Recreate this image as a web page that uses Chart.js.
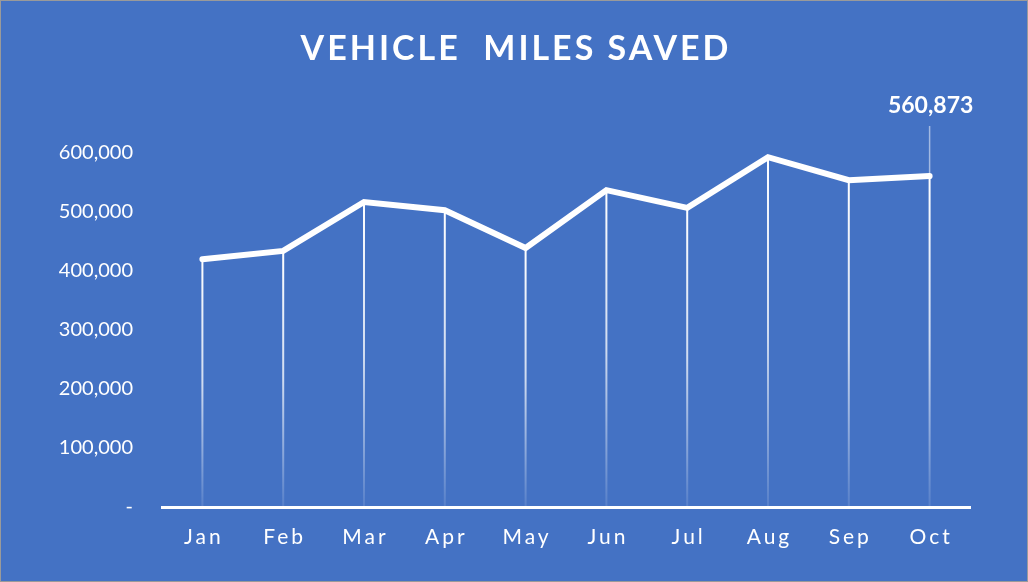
<!DOCTYPE html>
<html lang="en">
<head>
  <meta charset="UTF-8">
  <title>Vehicle Miles Saved</title>
  <script src="https://cdn.jsdelivr.net/npm/chart.js"></script>
  <style>
    html, body { margin: 0; padding: 0; background: #4472C4; }
    #wrap { width: 1028px; height: 582px; }
  </style>
</head>
<body>
  <div id="wrap"><canvas id="lineChart" width="1028" height="582"></canvas></div>

  <script>
    const months = ['Jan', 'Feb', 'Mar', 'Apr', 'May', 'Jun', 'Jul', 'Aug', 'Sep', 'Oct'];
    const milesSaved = [420000, 434000, 517000, 503000, 439000, 537000, 507000, 593000, 554000, 560873];
    const yTicks = [0, 100000, 200000, 300000, 400000, 500000, 600000];
    const chartTitle = 'VEHICLE  MILES SAVED';

    const fmt = v => v === 0 ? '-' : v.toLocaleString('en-US');

    // title, drop lines, x labels, last-point callout, frame
    const decor = {
      id: 'decor',
      beforeDraw(chart) {
        const ctx = chart.ctx;
        ctx.save();
        ctx.fillStyle = '#4472C4';
        ctx.fillRect(0, 0, chart.width, chart.height);
        ctx.restore();
      },
      beforeDatasetsDraw(chart) {
        const ctx = chart.ctx;
        const meta = chart.getDatasetMeta(0);
        const bottom = chart.chartArea.bottom;
        ctx.save();
        meta.data.forEach(pt => {
          const g = ctx.createLinearGradient(0, pt.y, 0, bottom);
          g.addColorStop(0, 'rgba(255,255,255,1)');
          g.addColorStop(0.5, 'rgba(255,255,255,0.75)');
          g.addColorStop(1, 'rgba(255,255,255,0.1)');
          ctx.strokeStyle = g;
          ctx.lineWidth = 2;
          ctx.beginPath();
          ctx.moveTo(pt.x, pt.y);
          ctx.lineTo(pt.x, bottom);
          ctx.stroke();
        });
        ctx.restore();
      },
      afterDraw(chart) {
        const ctx = chart.ctx;
        const x = chart.scales.x;
        const meta = chart.getDatasetMeta(0);
        ctx.save();
        ctx.fillStyle = '#ffffff';
        ctx.textAlign = 'center';
        ctx.textBaseline = 'middle';

        ctx.font = 'bold 34px Lato, "Open Sans", sans-serif';
        ctx.letterSpacing = '3px';
        ctx.fillText(chartTitle, 516, 49);

        ctx.font = '21px Lato, "Open Sans", sans-serif';
        ctx.letterSpacing = '3px';
        months.forEach((m, i) => {
          ctx.fillText(m, x.getPixelForValue(i) + 1.5, 537);
        });

        const last = meta.data[meta.data.length - 1];
        ctx.letterSpacing = '0px';
        ctx.strokeStyle = 'rgba(255,255,255,0.5)';
        ctx.lineWidth = 1.5;
        ctx.beginPath();
        ctx.moveTo(last.x, 126);
        ctx.lineTo(last.x, last.y);
        ctx.stroke();
        ctx.font = 'bold 23px Lato, "Open Sans", sans-serif';
        ctx.fillText(fmt(milesSaved[milesSaved.length - 1]), last.x + 1, 106);

        ctx.strokeStyle = '#9a9a9a';
        ctx.lineWidth = 1;
        ctx.strokeRect(0.5, 0.5, chart.width - 1, chart.height - 1);
        ctx.restore();
      }
    };

    const ctx = document.getElementById('lineChart').getContext('2d');
    new Chart(ctx, {
      type: 'line',
      data: {
        labels: months,
        datasets: [{
          label: 'Vehicle Miles Saved',
          data: milesSaved,
          borderColor: '#ffffff',
          borderWidth: 6,
          borderCapStyle: 'round',
          borderJoinStyle: 'miter',
          pointRadius: 0,
          tension: 0,
          clip: false
        }]
      },
      options: {
        responsive: false,
        animation: false,
        layout: { padding: { top: 153, right: 58, left: 0, bottom: 0 } },
        plugins: { legend: { display: false }, tooltip: { enabled: false } },
        scales: {
          x: {
            offset: true,
            grid: { display: false, drawTicks: false },
            border: { display: true, color: '#ffffff', width: 3 },
            ticks: { display: false },
            afterFit: s => { s.height = 75; }
          },
          y: {
            min: 0,
            max: 600000,
            afterBuildTicks: s => { s.ticks = yTicks.map(v => ({ value: v })); },
            grid: { display: false, drawTicks: false },
            border: { display: false },
            ticks: {
              color: '#ffffff',
              padding: 29,
              font: { family: 'Lato, "Open Sans", sans-serif', size: 20 },
              callback: v => fmt(v)
            },
            afterFit: s => { s.width = 162; }
          }
        }
      },
      plugins: [decor]
    });
  </script>
</body>
</html>
